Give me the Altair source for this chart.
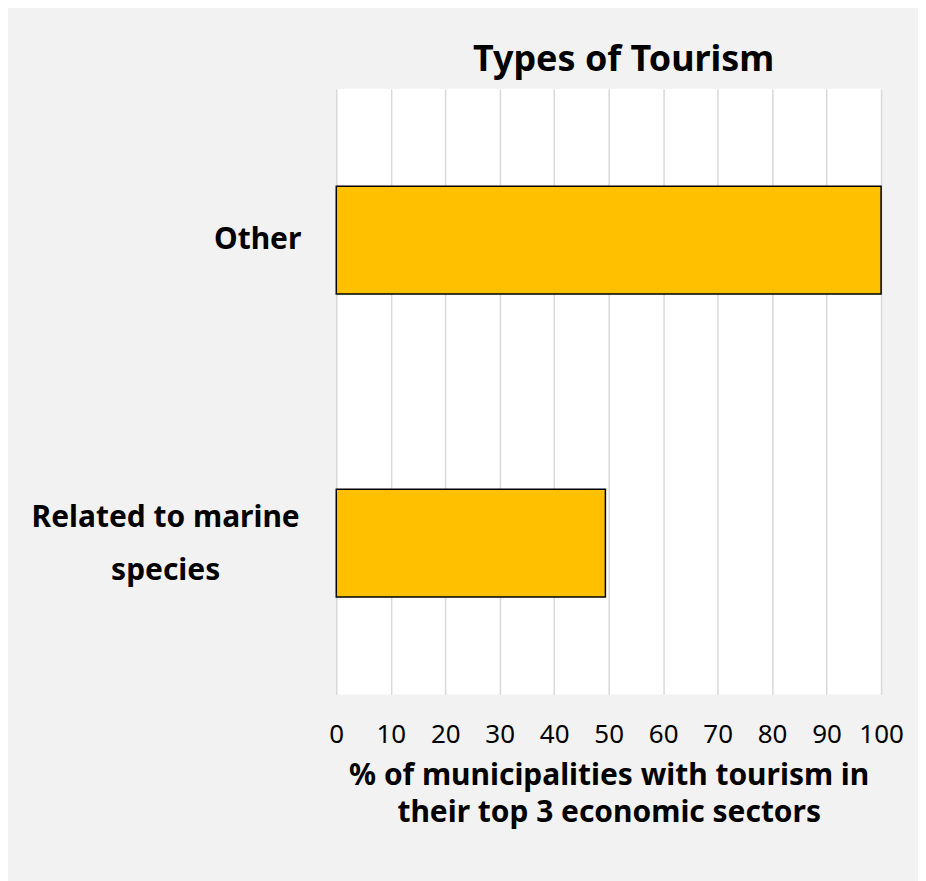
import altair as alt
import pandas as pd

categories = ["Other", "Related to marine species"]
labels = ["Other", "Related to marine\nspecies"]
values = [100, 49.4]
x_ticks = [0, 10, 20, 30, 40, 50, 60, 70, 80, 90, 100]

df = pd.DataFrame({"type": categories, "label": labels, "pct": values})

FONT = "Noto Sans"

y_enc = alt.Y("type:N", sort=categories, axis=None,
              scale=alt.Scale(paddingInner=0.644, paddingOuter=0.322))

base = alt.Chart(df)

bars = base.mark_bar(color="#FFC000", stroke="black", strokeWidth=1.5).encode(
    x=alt.X("pct:Q", scale=alt.Scale(domain=[0, 100], nice=False),
            axis=alt.Axis(values=x_ticks, format="d",
                          title=["% of municipalities with tourism in", "their top 3 economic sectors"],
                          titleFontSize=30, titleFontWeight="bold", titleFont=FONT,
                          titleColor="black", titleLineHeight=37, titlePadding=13,
                          labelFontSize=26, labelFont=FONT, labelColor="black",
                          labelPadding=27, labelOverlap=False, labelFlush=False,
                          domain=False, ticks=False,
                          grid=True, gridColor="#d9d9d9", gridWidth=1.5)),
    y=y_enc,
)

lab_other = base.transform_filter(alt.datum.type == "Other").mark_text(
    align="right", baseline="middle", fontSize=30, fontWeight="bold", font=FONT, color="black"
).encode(x=alt.value(-35), y=y_enc, text="label:N")

lab_marine = base.transform_filter(alt.datum.type != "Other").mark_text(
    align="center", baseline="middle", fontSize=30, fontWeight="bold", font=FONT, color="black",
    lineBreak="\n", lineHeight=53, dy=-25
).encode(x=alt.value(-171), y=y_enc, text="label:N")

chart = alt.layer(bars, lab_other, lab_marine).properties(
    width=546, height=607,
    autosize=alt.AutoSizeParams(type="none"),
    padding={"left": 329, "top": 80, "right": 37, "bottom": 186},
    background="#f2f2f2",
    title=alt.TitleParams("Types of Tourism", fontSize=36, fontWeight="bold", font=FONT,
                          color="black", anchor="middle", dx=15, offset=10),
).configure_view(fill="white", strokeWidth=0)

chart.save("out.html", embed_options={"renderer": "svg", "actions": False})
